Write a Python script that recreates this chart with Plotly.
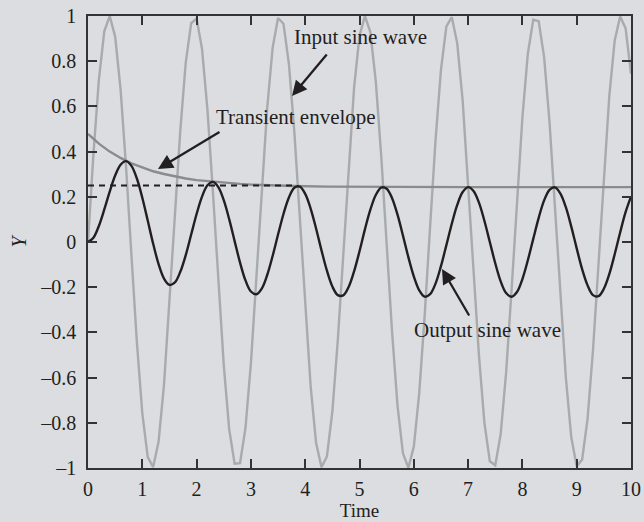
import plotly.graph_objects as go

# ---- data ----
time = [round(0.1 * i, 1) for i in range(101)]

input_wave = [0.000, 0.389, 0.717, 0.932, 1.000, 0.909, 0.675, 0.335, -0.058, -0.443,
              -0.757, -0.952, -0.996, -0.883, -0.631, -0.279, 0.117, 0.494, 0.794, 0.968,
              0.989, 0.854, 0.585, 0.223, -0.174, -0.544, -0.828, -0.981, -0.979, -0.823,
              -0.537, -0.166, 0.232, 0.592, 0.859, 0.991, 0.966, 0.788, 0.487, 0.108,
              -0.288, -0.638, -0.888, -0.997, -0.949, -0.751, -0.435, -0.050, 0.343, 0.682,
              0.913, 1.000, 0.929, 0.711, 0.381, -0.009, -0.398, -0.724, -0.935, -0.999,
              -0.906, -0.669, -0.327, 0.067, 0.450, 0.762, 0.954, 0.995, 0.879, 0.625,
              0.271, -0.125, -0.502, -0.799, -0.970, -0.988, -0.850, -0.578, -0.214, 0.183,
              0.551, 0.833, 0.983, 0.977, 0.818, 0.529, 0.157, -0.240, -0.599, -0.864,
              -0.992, -0.963, -0.783, -0.479, -0.099, 0.296, 0.645, 0.892, 0.998, 0.946,
              0.745]

output_wave = [0.000, 0.019, 0.071, 0.144, 0.223, 0.294, 0.342, 0.358, 0.337, 0.281,
               0.196, 0.095, -0.008, -0.098, -0.162, -0.190, -0.179, -0.132, -0.058, 0.033,
               0.124, 0.201, 0.251, 0.266, 0.243, 0.185, 0.101, 0.004, -0.091, -0.170,
               -0.219, -0.231, -0.206, -0.146, -0.062, 0.033, 0.124, 0.197, 0.240, 0.245,
               0.213, 0.148, 0.060, -0.037, -0.127, -0.197, -0.235, -0.236, -0.199, -0.130,
               -0.041, 0.056, 0.143, 0.208, 0.241, 0.236, 0.194, 0.121, 0.029, -0.067,
               -0.152, -0.214, -0.242, -0.231, -0.184, -0.107, -0.014, 0.081, 0.164, 0.221,
               0.243, 0.226, 0.174, 0.094, 0.000, -0.094, -0.174, -0.226, -0.242, -0.221,
               -0.164, -0.081, 0.014, 0.107, 0.184, 0.231, 0.242, 0.214, 0.154, 0.068,
               -0.028, -0.120, -0.192, -0.235, -0.240, -0.207, -0.142, -0.054, 0.042, 0.132,
               0.201]

env_time = [0, 0.2, 0.4, 0.6, 0.8, 1.0, 1.2, 1.4, 1.6, 1.8, 2.0, 2.2, 2.4, 2.6, 2.8,
            3.0, 3.4, 3.8, 4.4, 5.0, 6.0, 7.0, 8.0, 9.0, 10.0]
envelope = [0.478, 0.435, 0.400, 0.372, 0.348, 0.329, 0.313, 0.301, 0.290, 0.281,
            0.274, 0.269, 0.264, 0.260, 0.257, 0.254, 0.250, 0.248, 0.245, 0.244,
            0.243, 0.243, 0.243, 0.243, 0.243]

steady_time = [0, 3.85]
steady_level = [0.25, 0.25]

y_ticks = [1, 0.8, 0.6, 0.4, 0.2, 0, -0.2, -0.4, -0.6, -0.8, -1]
y_tick_text = ["1", "0.8", "0.6", "0.4", "0.2", "0", "–0.2", "–0.4", "–0.6", "–0.8", "–1"]
x_ticks = list(range(0, 11))

BG = "#dcdde0"
FONT = "Liberation Serif"
TXT = "#231f20"

fig = go.Figure()
fig.add_trace(go.Scatter(x=time, y=input_wave, mode="lines",
                         line=dict(color="#a9aaac", width=2.4), showlegend=False))
fig.add_trace(go.Scatter(x=env_time, y=envelope, mode="lines",
                         line=dict(color="#8a8b8d", width=2.4), showlegend=False))
fig.add_trace(go.Scatter(x=steady_time, y=steady_level, mode="lines",
                         line=dict(color="#231f20", width=2.2, dash="6px,5px"), showlegend=False))
fig.add_trace(go.Scatter(x=time, y=output_wave, mode="lines", line_shape="spline",
                         line=dict(color="#231f20", width=2.4), showlegend=False))

ann_font = dict(family=FONT, size=21, color=TXT)
arrow_kw = dict(showarrow=True, arrowhead=2, arrowsize=1.3, arrowwidth=2.3,
                arrowcolor="#231f20", xref="x", yref="y", axref="x", ayref="y",
                text="", standoff=0)
fig.add_annotation(x=3.757, y=0.646, ax=4.42, ay=0.836, **arrow_kw)
fig.add_annotation(x=1.289, y=0.323, ax=2.449, ay=0.491, **arrow_kw)
fig.add_annotation(x=6.519, y=-0.119, ax=7.035, ay=-0.332, **arrow_kw)

fig.add_annotation(x=5.01, y=0.907, text="Input sine wave", showarrow=False,
                   xref="x", yref="y", font=ann_font)
fig.add_annotation(x=3.83, y=0.553, text="Transient envelope", showarrow=False,
                   xref="x", yref="y", font=ann_font)
fig.add_annotation(x=7.348, y=-0.389, text="Output sine wave", showarrow=False,
                   xref="x", yref="y", font=ann_font)

axis_common = dict(showgrid=False, zeroline=False, showline=True, linecolor="#333333",
                   linewidth=1.6, ticks="inside", ticklen=9, tickwidth=1.5,
                   tickcolor="#333333", mirror="ticks", automargin=False,
                   tickfont=dict(family=FONT, size=20, color=TXT))

fig.update_layout(
    width=644, height=522,
    margin=dict(l=88, r=13, t=16, b=54),
    paper_bgcolor=BG, plot_bgcolor=BG,
    font=dict(family=FONT, size=20, color=TXT),
    xaxis=dict(range=[0, 10], tickvals=x_ticks, ticklabelstandoff=2,
               title=dict(text="Time", font=dict(family=FONT, size=19, color=TXT), standoff=5),
               **axis_common),
    yaxis=dict(range=[-1, 1], tickvals=y_ticks, ticktext=y_tick_text, ticklabelstandoff=6,
               title=dict(text="<i>Y</i>", font=dict(family=FONT, size=20, color=TXT), standoff=8),
               **axis_common),
)

fig.write_html("out.html", config={"displayModeBar": False},
               post_script="document.body.style.margin='0px';document.body.style.background='#dcdde0';")
